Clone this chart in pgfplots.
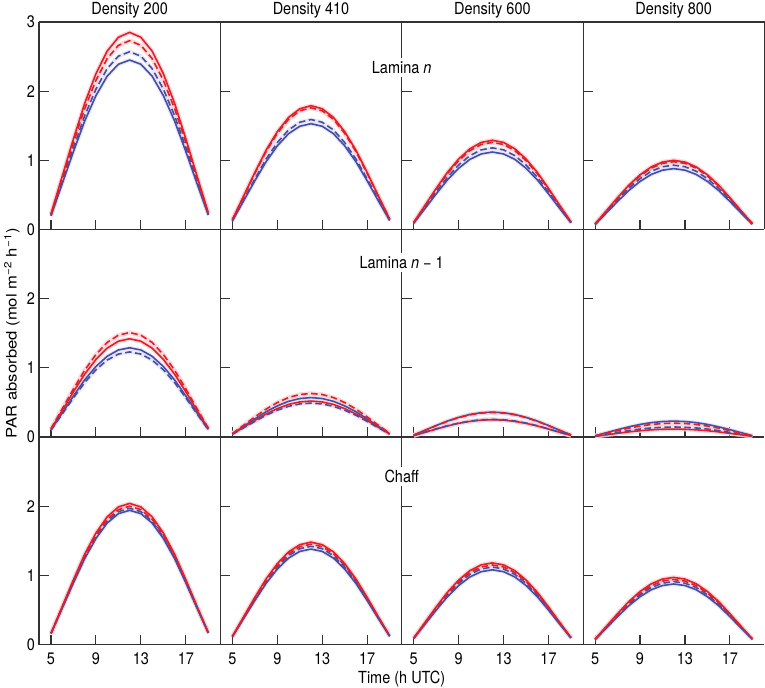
\documentclass[border=0pt]{standalone}
\usepackage{pgfplots}
\pgfplotsset{compat=1.18}
\usepackage{pgfplotstable}
\usepgfplotslibrary{groupplots}
\usepackage{fontspec}
\setmainfont{TeX Gyre Heros}

\definecolor{cR}{RGB}{232,28,36}
\definecolor{cB}{RGB}{68,78,168}
\definecolor{bR}{RGB}{248,210,214}
\definecolor{bB}{RGB}{224,224,242}
\definecolor{axg}{RGB}{50,50,50}

% columns: h  rs (red solid)  rd (red dashed)  bs (blue solid)  bd (blue dashed)
\pgfplotstableread{
h rs rd bs bd
5 0.228 0.218 0.196 0.206
6 0.770 0.737 0.662 0.694
7 1.311 1.256 1.127 1.182
8 1.824 1.747 1.568 1.645
9 2.252 2.157 1.936 2.030
10 2.579 2.471 2.217 2.326
11 2.779 2.662 2.389 2.506
12 2.850 2.730 2.450 2.570
13 2.779 2.662 2.389 2.506
14 2.579 2.471 2.217 2.326
15 2.252 2.157 1.936 2.030
16 1.824 1.747 1.568 1.645
17 1.311 1.256 1.127 1.182
18 0.770 0.737 0.662 0.694
19 0.242 0.232 0.208 0.218
}\tA
\pgfplotstableread{
h rs rd bs bd
5 0.143 0.141 0.122 0.127
6 0.483 0.475 0.413 0.429
7 0.823 0.810 0.704 0.731
8 1.146 1.126 0.979 1.018
9 1.414 1.390 1.209 1.256
10 1.620 1.593 1.385 1.439
11 1.745 1.716 1.492 1.550
12 1.790 1.760 1.530 1.590
13 1.745 1.716 1.492 1.550
14 1.620 1.593 1.385 1.439
15 1.414 1.390 1.209 1.256
16 1.146 1.126 0.979 1.018
17 0.823 0.810 0.704 0.731
18 0.483 0.475 0.413 0.429
19 0.152 0.150 0.130 0.135
}\tB
\pgfplotstableread{
h rs rd bs bd
5 0.103 0.101 0.090 0.094
6 0.348 0.340 0.302 0.319
7 0.593 0.580 0.515 0.543
8 0.826 0.806 0.717 0.755
9 1.019 0.995 0.885 0.932
10 1.167 1.140 1.014 1.068
11 1.258 1.229 1.092 1.151
12 1.290 1.260 1.120 1.180
13 1.258 1.229 1.092 1.151
14 1.167 1.140 1.014 1.068
15 1.019 0.995 0.885 0.932
16 0.826 0.806 0.717 0.755
17 0.593 0.580 0.515 0.543
18 0.348 0.340 0.302 0.319
19 0.110 0.107 0.095 0.100
}\tC
\pgfplotstableread{
h rs rd bs bd
5 0.080 0.078 0.070 0.074
6 0.270 0.265 0.238 0.251
7 0.460 0.451 0.405 0.428
8 0.640 0.627 0.563 0.595
9 0.790 0.774 0.695 0.735
10 0.905 0.887 0.796 0.842
11 0.975 0.956 0.858 0.907
12 1.000 0.980 0.880 0.930
13 0.975 0.956 0.858 0.907
14 0.905 0.887 0.796 0.842
15 0.790 0.774 0.695 0.735
16 0.640 0.627 0.563 0.595
17 0.460 0.451 0.405 0.428
18 0.270 0.265 0.238 0.251
19 0.085 0.083 0.075 0.079
}\tD
\pgfplotstableread{
h rs rd bs bd
5 0.114 0.121 0.103 0.098
6 0.383 0.408 0.348 0.332
7 0.653 0.695 0.593 0.566
8 0.909 0.966 0.826 0.787
9 1.122 1.193 1.019 0.972
10 1.285 1.367 1.167 1.113
11 1.385 1.472 1.258 1.199
12 1.420 1.510 1.290 1.230
13 1.385 1.472 1.258 1.199
14 1.285 1.367 1.167 1.113
15 1.122 1.193 1.019 0.972
16 0.909 0.966 0.826 0.787
17 0.653 0.695 0.593 0.566
18 0.383 0.408 0.348 0.332
19 0.121 0.128 0.110 0.105
}\tE
\pgfplotstableread{
h rs rd bs bd
5 0.042 0.050 0.046 0.039
6 0.140 0.170 0.154 0.132
7 0.239 0.290 0.262 0.225
8 0.333 0.403 0.365 0.314
9 0.411 0.498 0.450 0.387
10 0.471 0.570 0.516 0.443
11 0.507 0.614 0.556 0.478
12 0.520 0.630 0.570 0.490
13 0.507 0.614 0.556 0.478
14 0.471 0.570 0.516 0.443
15 0.411 0.498 0.450 0.387
16 0.333 0.403 0.365 0.314
17 0.239 0.290 0.262 0.225
18 0.140 0.170 0.154 0.132
19 0.044 0.054 0.048 0.042
}\tF
\pgfplotstableread{
h rs rd bs bd
5 0.020 0.028 0.029 0.020
6 0.068 0.096 0.097 0.069
7 0.115 0.163 0.166 0.117
8 0.160 0.227 0.230 0.163
9 0.198 0.280 0.284 0.201
10 0.226 0.321 0.326 0.231
11 0.244 0.346 0.351 0.249
12 0.250 0.355 0.360 0.255
13 0.244 0.346 0.351 0.249
14 0.226 0.321 0.326 0.231
15 0.198 0.280 0.284 0.201
16 0.160 0.227 0.230 0.163
17 0.115 0.163 0.166 0.117
18 0.068 0.096 0.097 0.069
19 0.021 0.030 0.031 0.022
}\tG
\pgfplotstableread{
h rs rd bs bd
5 0.009 0.016 0.018 0.012
6 0.031 0.054 0.062 0.039
7 0.053 0.092 0.106 0.067
8 0.074 0.128 0.147 0.093
9 0.091 0.158 0.182 0.115
10 0.104 0.181 0.208 0.131
11 0.112 0.195 0.224 0.141
12 0.115 0.200 0.230 0.145
13 0.112 0.195 0.224 0.141
14 0.104 0.181 0.208 0.131
15 0.091 0.158 0.182 0.115
16 0.074 0.128 0.147 0.093
17 0.053 0.092 0.106 0.067
18 0.031 0.054 0.062 0.039
19 0.010 0.017 0.020 0.012
}\tH
\pgfplotstableread{
h rs rd bs bd
5 0.163 0.160 0.155 0.158
6 0.551 0.540 0.524 0.532
7 0.938 0.920 0.892 0.906
8 1.306 1.280 1.242 1.261
9 1.612 1.580 1.533 1.556
10 1.846 1.810 1.756 1.783
11 1.989 1.950 1.892 1.921
12 2.040 2.000 1.940 1.970
13 1.989 1.950 1.892 1.921
14 1.846 1.810 1.756 1.783
15 1.612 1.580 1.533 1.556
16 1.306 1.280 1.242 1.261
17 0.938 0.920 0.892 0.906
18 0.551 0.540 0.524 0.532
19 0.173 0.170 0.165 0.167
}\tI
\pgfplotstableread{
h rs rd bs bd
5 0.118 0.116 0.110 0.114
6 0.400 0.392 0.373 0.383
7 0.681 0.667 0.635 0.653
8 0.947 0.928 0.883 0.909
9 1.169 1.146 1.090 1.122
10 1.339 1.312 1.249 1.285
11 1.443 1.414 1.346 1.385
12 1.480 1.450 1.380 1.420
13 1.443 1.414 1.346 1.385
14 1.339 1.312 1.249 1.285
15 1.169 1.146 1.090 1.122
16 0.947 0.928 0.883 0.909
17 0.681 0.667 0.635 0.653
18 0.400 0.392 0.373 0.383
19 0.126 0.123 0.117 0.121
}\tJ
\pgfplotstableread{
h rs rd bs bd
5 0.094 0.092 0.086 0.090
6 0.319 0.311 0.292 0.302
7 0.543 0.529 0.497 0.515
8 0.755 0.736 0.691 0.717
9 0.932 0.909 0.853 0.885
10 1.068 1.041 0.977 1.014
11 1.151 1.121 1.053 1.092
12 1.180 1.150 1.080 1.120
13 1.151 1.121 1.053 1.092
14 1.068 1.041 0.977 1.014
15 0.932 0.909 0.853 0.885
16 0.755 0.736 0.691 0.717
17 0.543 0.529 0.497 0.515
18 0.319 0.311 0.292 0.302
19 0.100 0.098 0.092 0.095
}\tK
\pgfplotstableread{
h rs rd bs bd
5 0.078 0.075 0.070 0.073
6 0.262 0.254 0.236 0.246
7 0.446 0.432 0.403 0.419
8 0.621 0.602 0.560 0.582
9 0.766 0.743 0.691 0.719
10 0.878 0.851 0.792 0.824
11 0.946 0.917 0.853 0.887
12 0.970 0.940 0.875 0.910
13 0.946 0.917 0.853 0.887
14 0.878 0.851 0.792 0.824
15 0.766 0.743 0.691 0.719
16 0.621 0.602 0.560 0.582
17 0.446 0.432 0.403 0.419
18 0.262 0.254 0.236 0.246
19 0.082 0.080 0.074 0.077
}\tL

\pgfplotsset{
  bandR/.style={draw=bR, line width=4.5pt, line join=round, opacity=0.8},
  bandB/.style={draw=bB, line width=4pt, line join=round, opacity=0.7},
  lineR/.style={draw=cR, line width=1.6pt, line join=round},
  lineB/.style={draw=cB, line width=1.6pt, line join=round},
  dsh/.style={dash pattern=on 6.5pt off 3.5pt},
}
\newcommand{\drawpanel}[1]{%
  \addplot[bandB] table[x=h,y=bs]{#1};
  \addplot[bandB] table[x=h,y=bd]{#1};
  \addplot[bandR] table[x=h,y=rs]{#1};
  \addplot[bandR] table[x=h,y=rd]{#1};
  \addplot[lineB] table[x=h,y=bs]{#1};
  \addplot[lineR] table[x=h,y=rs]{#1};
  \addplot[lineB,dsh] table[x=h,y=bd]{#1};
  \addplot[lineR,dsh] table[x=h,y=rd]{#1};
}
\newcommand{\tf}{\fontsize{14.5}{17}\selectfont}

\begin{document}
\tf
\begin{tikzpicture}
\begin{groupplot}[
  group style={group size=4 by 3, horizontal sep=0pt, vertical sep=0pt,
    x descriptions at=edge bottom, y descriptions at=edge left},
  width=181.5pt, height=207.67pt, scale only axis,
  xmin=3.93, xmax=20.07, ymin=0, ymax=3,
  axis x line=bottom, axis y line=left,
  axis line style={-, draw=axg, line width=1.1pt},
  tick align=inside, major tick length=10pt,
  tick style={draw=axg, line width=1.1pt},
  xtick={5,9,13,17}, ytick={0,1,2,3},
  /pgf/number format/assume math mode=true,
  tick label style={font=\tf, yscale=1.15},
  xticklabel style={yshift=-2pt},
  yticklabel style={xshift=1pt},
]
\nextgroupplot \drawpanel{\tA}
\nextgroupplot \drawpanel{\tB}
  \coordinate (labA) at (rel axis cs:1,0.78);
\nextgroupplot \drawpanel{\tC}
\nextgroupplot \drawpanel{\tD}
\nextgroupplot[ytick={0,1,2}] \drawpanel{\tE}
\nextgroupplot[ytick={0,1,2}] \drawpanel{\tF}
  \coordinate (labB) at (rel axis cs:1,0.84);
\nextgroupplot[ytick={0,1,2}] \drawpanel{\tG}
\nextgroupplot[ytick={0,1,2}] \drawpanel{\tH}
\nextgroupplot[ytick={0,1,2}] \drawpanel{\tI}
\nextgroupplot[ytick={0,1,2}] \drawpanel{\tJ}
  \coordinate (labC) at (rel axis cs:1,0.81);
\nextgroupplot[ytick={0,1,2}] \drawpanel{\tK}
\nextgroupplot[ytick={0,1,2}] \drawpanel{\tL}
\end{groupplot}
\draw[axg, line width=1.1pt] (group c1r1.north west) -- (group c4r1.north east) -- (group c4r1.south east);
\node[yscale=1.15] at ([yshift=12pt]group c1r1.north) {Density 200};
\node[yscale=1.15] at ([yshift=12pt]group c2r1.north) {Density 410};
\node[yscale=1.15] at ([yshift=12pt]group c3r1.north) {Density 600};
\node[yscale=1.15] at ([yshift=12pt]group c4r1.north) {Density 800};
\node[fill=white, inner sep=3pt, yscale=1.15] at (labA) {Lamina \textit{n}};
\node[fill=white, inner sep=3pt, yscale=1.15] at (labB) {Lamina \textit{n} − 1};
\node[fill=white, inner sep=3pt, yscale=1.15] at (labC) {Chaff};
\node[rotate=90] at ([xshift=-27pt]group c1r2.west) {\scalebox{1.15}[1]{PAR absorbed (mol m\textsuperscript{−2} h\textsuperscript{−1})}};
\node[yscale=1.15] at ([yshift=-35pt]group c2r3.south east) {Time (h UTC)};
\pgfresetboundingbox
\path[use as bounding box] ([xshift=-39pt,yshift=22pt]group c1r1.north west) rectangle ([xshift=0.6pt,yshift=-43pt]group c4r3.south east);
\end{tikzpicture}
\end{document}
